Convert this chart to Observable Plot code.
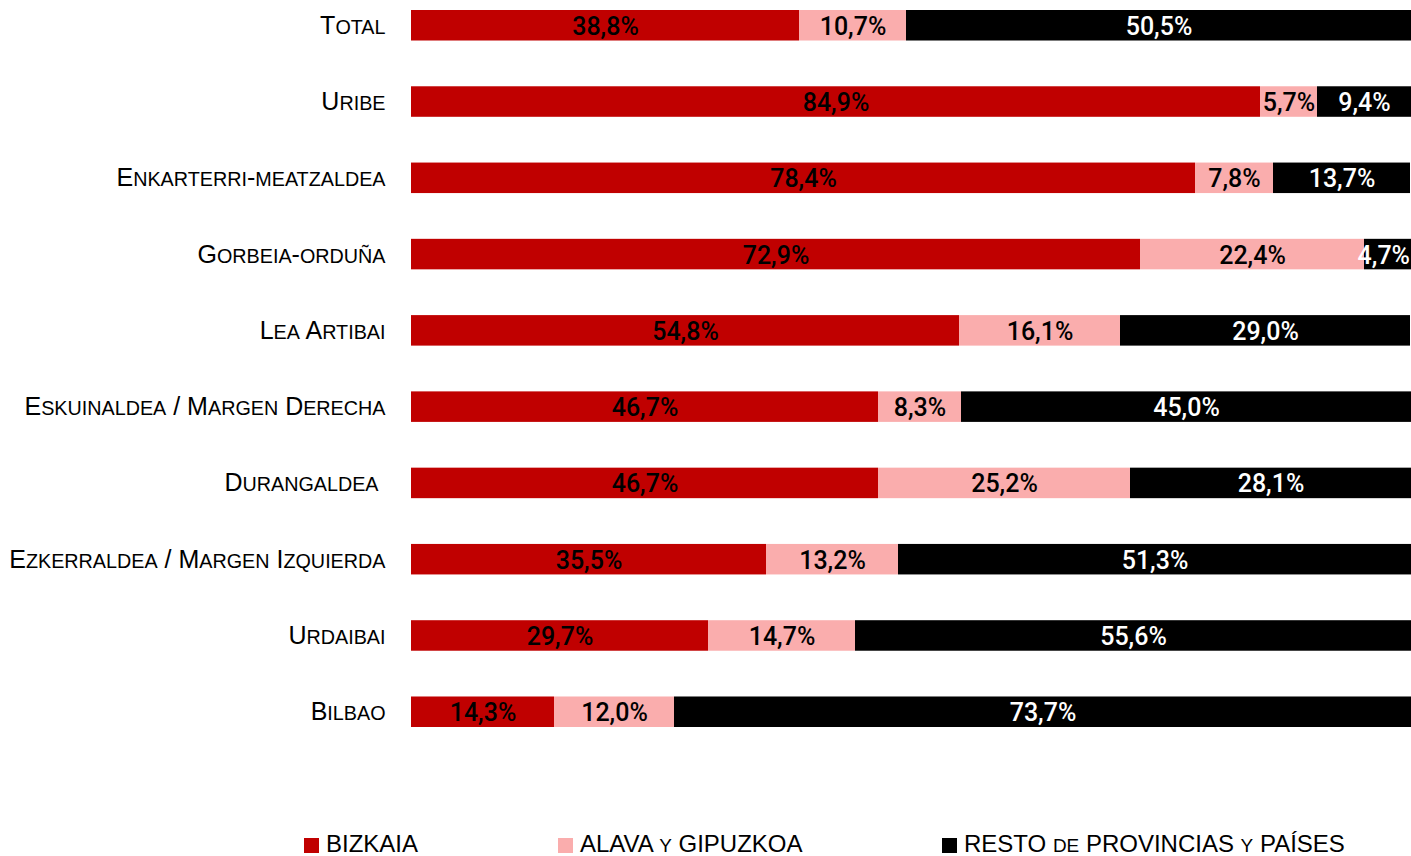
<!DOCTYPE html>
<html>
<head>
<meta charset="utf-8">
<script src="https://cdn.jsdelivr.net/npm/d3@7"></script>
<script src="https://cdn.jsdelivr.net/npm/@observablehq/plot@0.6"></script>
<style>
  html, body { margin: 0; padding: 0; background: #fff; overflow: hidden; }
  #legend { position: relative; height: 24px; font-family: "Liberation Sans", Arial, sans-serif; font-size: 24px; color: #000; line-height: 24px; }
  .item { position: absolute; top: 0; white-space: nowrap; }
  .sw { display: inline-block; width: 15px; height: 15px; margin-right: 7px; vertical-align: -1px; }
  .sc { font-size: 0.79em; }
</style>
</head>
<body>
<div id="chart"></div>
<div id="legend"></div>
<script>
const categories = ["Total", "Uribe", "Enkarterri-meatzaldea", "Gorbeia-orduña", "Lea Artibai",
  "Eskuinaldea / Margen Derecha", "Durangaldea", "Ezkerraldea / Margen Izquierda", "Urdaibai", "Bilbao"];
const seriesNames = ["BIZKAIA", "ALAVA y GIPUZKOA", "RESTO de PROVINCIAS y PAÍSES"];
const seriesColors = ["#C00000", "#FAADAD", "#000000"];
const labelColors = ["#000000", "#000000", "#FFFFFF"];
const bizkaia = [38.8, 84.9, 78.4, 72.9, 54.8, 46.7, 46.7, 35.5, 29.7, 14.3];
const alavaGipuzkoa = [10.7, 5.7, 7.8, 22.4, 16.1, 8.3, 25.2, 13.2, 14.7, 12.0];
const resto = [50.5, 9.4, 13.7, 4.7, 29.0, 45.0, 28.1, 51.3, 55.6, 73.7];

const seriesValues = [bizkaia, alavaGipuzkoa, resto];
const data = [];
categories.forEach((c, i) => {
  seriesNames.forEach((s, j) => {
    data.push({cat: c, series: s, value: seriesValues[j][i], labelColor: labelColors[j]});
  });
});
const fmt = v => v.toFixed(1).replace(".", ",") + "%";
const labelFont = "'Liberation Sans', Arial, sans-serif";
const W = 1411;

const chart = Plot.plot({
  width: W,
  height: 832,
  marginLeft: 411,
  marginRight: 0,
  marginTop: 10,
  marginBottom: 105,
  style: {fontFamily: labelFont, background: "#fff"},
  x: {domain: [0, 100], axis: null},
  y: {domain: categories, paddingInner: 0.6, paddingOuter: 0, align: 0, round: false, label: null},
  color: {domain: seriesNames, range: seriesColors},
  marks: [
    Plot.barX(data, Plot.stackX({x: "value", y: "cat", fill: "series", z: "series", order: seriesNames})),
    Plot.text(data, Plot.stackX({x: "value", y: "cat", z: "series", order: seriesNames,
      text: d => fmt(d.value), fill: "labelColor", fontSize: 25, fontWeight: 500, dy: 1,
      fontFamily: "Roboto, 'Liberation Sans', sans-serif", className: "seglabel"})),
    Plot.axisY({tickSize: 0, tickPadding: 26, fontSize: 25, label: null,
      tickFormat: d => d === "Durangaldea" ? d + "\u00a0" : d})
  ]
});

// render lowercase letters as small capitals (real text, split into tspans)
function smallCaps(textEl) {
  const s = textEl.textContent;
  while (textEl.firstChild) textEl.removeChild(textEl.firstChild);
  const isLower = ch => ch !== ch.toUpperCase();
  let i = 0;
  while (i < s.length) {
    const low = isLower(s[i]);
    let j = i;
    while (j < s.length && isLower(s[j]) === low) j++;
    const ts = document.createElementNS("http://www.w3.org/2000/svg", "tspan");
    ts.textContent = low ? s.slice(i, j).toUpperCase() : s.slice(i, j);
    if (low) ts.setAttribute("font-size", "0.79em");
    textEl.appendChild(ts);
    i = j;
  }
}
chart.querySelectorAll("g[aria-label='y-axis tick label'] text").forEach(smallCaps);
document.getElementById("chart").appendChild(chart);

// keep segment labels inside the chart's right edge
chart.querySelectorAll(".seglabel text").forEach(t => {
  const r = t.getBoundingClientRect();
  if (r.right > W - 1) {
    const shift = (W - 1) - r.right;
    t.setAttribute("transform", ((t.getAttribute("transform") || "") + ` translate(${shift},0)`).trim());
  }
});

const legend = document.getElementById("legend");
const legendX = [304, 558, 942];
seriesNames.forEach((s, j) => {
  const it = document.createElement("div");
  it.className = "item";
  it.style.left = legendX[j] + "px";
  const sw = document.createElement("span");
  sw.className = "sw";
  sw.style.background = seriesColors[j];
  it.appendChild(sw);
  // words written in lowercase in the series name are shown as small capitals
  s.split(/(\s+)/).forEach(w => {
    const sp = document.createElement("span");
    if (w.trim() && w === w.toLowerCase() && w !== w.toUpperCase()) {
      sp.className = "sc";
      sp.textContent = w.toUpperCase();
    } else {
      sp.textContent = w;
    }
    it.appendChild(sp);
  });
  legend.appendChild(it);
});
</script>
</body>
</html>
